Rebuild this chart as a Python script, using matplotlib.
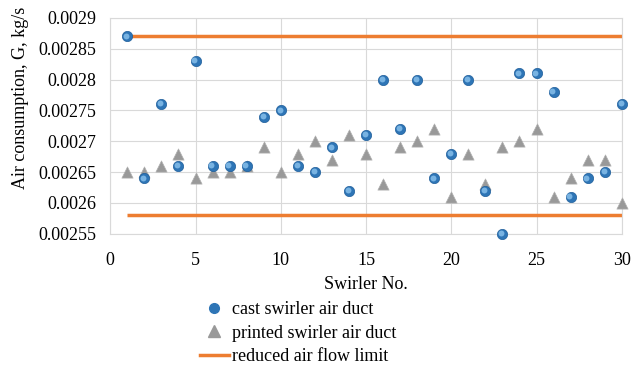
import numpy as np
import matplotlib
matplotlib.use('Agg')
import matplotlib.pyplot as plt
from matplotlib.lines import Line2D

plt.rcParams['font.family'] = ['Liberation Serif', 'DejaVu Serif']

# swirler numbers
swirler = list(range(1, 31))

# air consumption, kg/s
cast = [0.00287, 0.00264, 0.00276, 0.00266, 0.00283, 0.00266, 0.00266, 0.00266, 0.00274, 0.00275,
        0.00266, 0.00265, 0.00269, 0.00262, 0.00271, 0.00280, 0.00272, 0.00280, 0.00264, 0.00268,
        0.00280, 0.00262, 0.00255, 0.00281, 0.00281, 0.00278, 0.00261, 0.00264, 0.00265, 0.00276]
printed = [0.00265, 0.00265, 0.00266, 0.00268, 0.00264, 0.00265, 0.00265, 0.00266, 0.00269, 0.00265,
           0.00268, 0.00270, 0.00267, 0.00271, 0.00268, 0.00263, 0.00269, 0.00270, 0.00272, 0.00261,
           0.00268, 0.00263, 0.00269, 0.00270, 0.00272, 0.00261, 0.00264, 0.00267, 0.00267, 0.00260]

# limits
lim_x = [1, 30]
lim_hi = [0.00287, 0.00287]
lim_lo = [0.00258, 0.00258]

yticks = [0.00255, 0.0026, 0.00265, 0.0027, 0.00275, 0.0028, 0.00285, 0.0029]
ytick_labels = ['0.00255', '0.0026', '0.00265', '0.0027', '0.00275', '0.0028', '0.00285', '0.0029']

fig = plt.figure(figsize=(6.41, 3.79), dpi=100)
ax = fig.add_axes([0.172, 0.383, 0.798, 0.570])

orange = '#ED7D31'
blue = '#2E75B6'
gray = '#999999'

ax.plot(lim_x, lim_hi, color=orange, lw=2.5, zorder=2, solid_capstyle='butt')
ax.plot(lim_x, lim_lo, color=orange, lw=2.5, zorder=2, solid_capstyle='butt')

ax.scatter(swirler, printed, marker='^', s=65, color=gray, edgecolor='#B0B0B0', lw=0.5,
           zorder=3, clip_on=False)
# shaded sphere look for cast points
ax.scatter(swirler, cast, marker='o', s=55, color=blue, edgecolor='#1F5E9A', lw=0.5,
           zorder=4, clip_on=False)
ax.scatter(np.array(swirler) - 0.07, np.array(cast) + 0.0000012, marker='o', s=18,
           color='#8CC3EE', lw=0, zorder=5, alpha=0.8, clip_on=False)

ax.set_xlim(0, 30)
ax.set_ylim(0.00255, 0.0029)
ax.set_xticks([0, 5, 10, 15, 20, 25, 30])
ax.set_yticks(yticks)
ax.set_yticklabels(ytick_labels)
ax.tick_params(length=0, labelsize=13)
ax.tick_params(axis='y', pad=10)
ax.tick_params(axis='x', pad=13)
ax.grid(True, color='#D9D9D9', lw=0.8)
ax.set_axisbelow(True)
for s in ax.spines.values():
    s.set_color('#D9D9D9')
    s.set_linewidth(0.8)

ax.set_xlabel('Swirler No.', fontsize=13, labelpad=5)
ax.set_ylabel('Air consumption, G, kg/s', fontsize=13)
ax.yaxis.set_label_coords(-0.158, 0.63)

handles = [
    Line2D([], [], marker='o', ls='none', color=blue, markersize=7),
    Line2D([], [], marker='^', ls='none', color=gray, markersize=8),
    Line2D([], [], color=orange, lw=2.5),
]
labels = ['cast swirler air duct', 'printed swirler air duct', 'reduced air flow limit']
fig.legend(handles, labels, loc='upper left', bbox_to_anchor=(0.312, 0.205), frameon=False,
           fontsize=13, handlelength=1.6, handletextpad=0.15, labelspacing=0.35, borderpad=0,
           borderaxespad=0)

fig.savefig('out.png', dpi=100)
